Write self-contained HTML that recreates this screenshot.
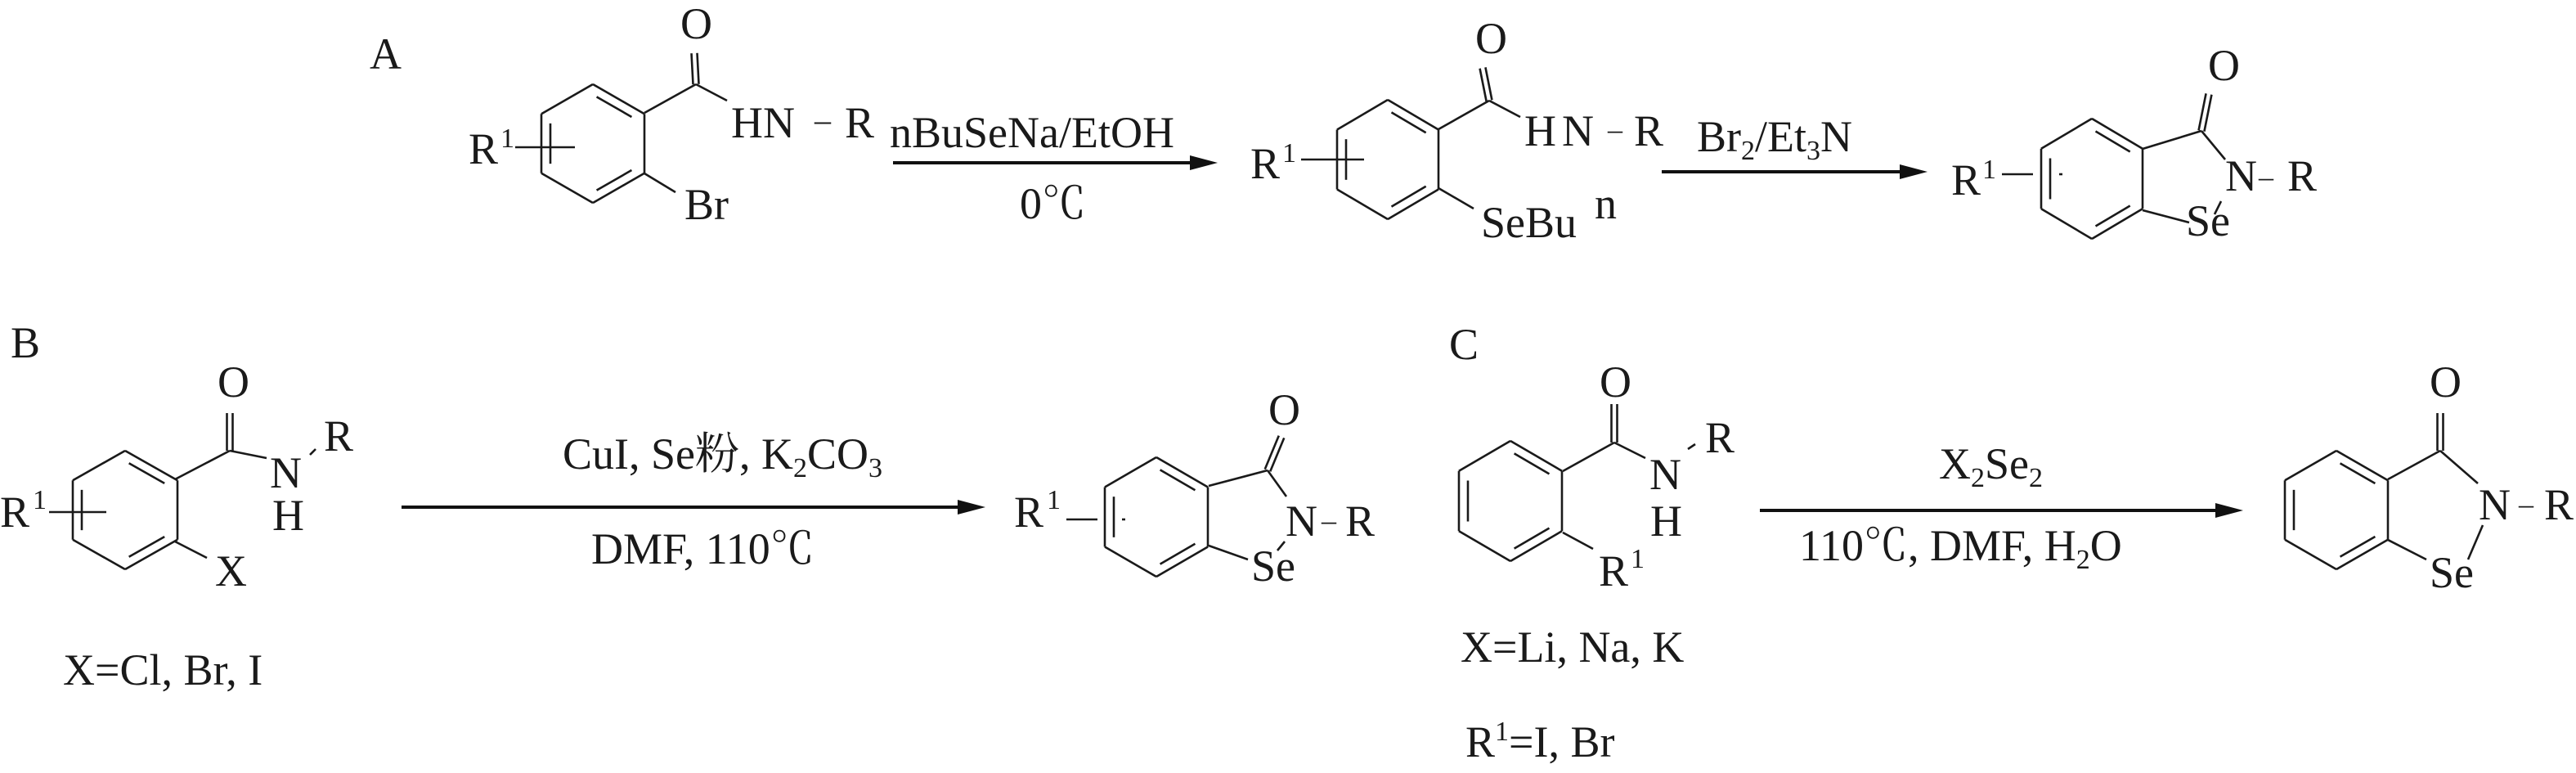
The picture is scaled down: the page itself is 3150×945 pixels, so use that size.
<!DOCTYPE html>
<html><head><meta charset="utf-8"><style>
html,body{margin:0;padding:0;background:#fff;width:3150px;height:945px;overflow:hidden}
svg text{font-family:"Liberation Serif","Noto Serif CJK SC","Noto Sans CJK SC",serif;fill:#1a1a1a;font-size:54px}
.s{font-size:34px}
</style></head><body>
<svg id="sv" width="3150" height="945" viewBox="0 0 3150 945" xmlns="http://www.w3.org/2000/svg">
<g id="bonds" stroke="#1a1a1a" stroke-width="2.6" fill="none" stroke-linecap="butt"></g>
<g id="arrows" fill="#111" stroke="#111"></g>
<!-- A -->
<text x="452" y="84">A</text>
<text x="573" y="200">R</text><text class="s" x="612" y="180">1</text>
<text x="832" y="47">O</text>
<text x="894" y="168">HN</text>
<text x="996" y="160" style="font-size:40px">–</text>
<text x="1033" y="168">R</text>
<text x="837" y="268">Br</text>
<text x="1088" y="180">nBuSeNa/EtOH</text>
<text x="1247" y="267">0℃</text>
<text x="1529" y="218">R</text><text class="s" x="1568" y="198">1</text>
<text x="1804" y="65">O</text>
<text x="1864" y="178">H</text><text x="1910" y="178">N</text>
<text x="1966" y="170" style="font-size:36px">–</text>
<text x="1998" y="178">R</text>
<text x="1811" y="290">SeBu</text>
<text x="1950" y="267">n</text>
<text x="2075" y="185">Br<tspan class="s" dy="10">2</tspan><tspan dy="-10">/Et</tspan><tspan class="s" dy="10">3</tspan><tspan dy="-10">N</tspan></text>
<text x="2386" y="238">R</text><text class="s" x="2424" y="218">1</text>
<text x="2700" y="98">O</text>
<text x="2721" y="233">N</text>
<text x="2762" y="228" style="font-size:36px">–</text>
<text x="2797" y="233">R</text>
<text x="2673" y="288">Se</text>
<!-- B -->
<text x="13" y="437">B</text>
<text x="0" y="644">R</text><text class="s" x="40" y="622">1</text>
<text x="266" y="485">O</text>
<text x="330" y="596">N</text>
<text x="396" y="551">R</text>
<text x="333" y="648">H</text>
<text x="263" y="716">X</text>
<text x="688" y="573">CuI, Se粉, K<tspan class="s" dy="10">2</tspan><tspan dy="-10">CO</tspan><tspan class="s" dy="10">3</tspan></text>
<text x="723" y="689">DMF, 110℃</text>
<text x="77" y="837">X=Cl, Br, I</text>
<text x="1240" y="644">R</text><text class="s" x="1280" y="622">1</text>
<text x="1551" y="519">O</text>
<text x="1572" y="655">N</text>
<text x="1616" y="648" style="font-size:36px">–</text>
<text x="1645" y="655">R</text>
<text x="1530" y="710">Se</text>
<!-- C -->
<text x="1772" y="439">C</text>
<text x="1956" y="485">O</text>
<text x="2017" y="598">N</text>
<text x="2085" y="553">R</text>
<text x="2018" y="655">H</text>
<text x="1955" y="716">R</text><text class="s" x="1994" y="694">1</text>
<text x="1786" y="809">X=Li, Na, K</text>
<text x="1792" y="925">R<tspan class="s" dy="-20">1</tspan><tspan dy="20">=I, Br</tspan></text>
<text x="2371" y="585">X<tspan class="s" dy="10">2</tspan><tspan dy="-10">Se</tspan><tspan class="s" dy="10">2</tspan></text>
<text x="2200" y="685">110℃, DMF, H<tspan class="s" dy="10">2</tspan><tspan dy="-10">O</tspan></text>
<text x="2971" y="485">O</text>
<text x="3031" y="635">N</text>
<text x="3080" y="628" style="font-size:36px">–</text>
<text x="3111" y="635">R</text>
<text x="2971" y="718">Se</text>
</svg>
<script>
var NS="http://www.w3.org/2000/svg",B=document.getElementById("bonds"),A=document.getElementById("arrows");
function L(x1,y1,x2,y2){var l=document.createElementNS(NS,"line");l.setAttribute("x1",x1);l.setAttribute("y1",y1);l.setAttribute("x2",x2);l.setAttribute("y2",y2);B.appendChild(l);}
function ring(cx,top,hw,bot){var h=(bot-top),v=[[cx,top],[cx+hw,top+h*0.25],[cx+hw,top+h*0.75],[cx,bot],[cx-hw,top+h*0.75],[cx-hw,top+h*0.25]];
 var cy=(top+bot)/2;for(var i=0;i<6;i++){var a=v[i],b=v[(i+1)%6];L(a[0],a[1],b[0],b[1]);}
 [0,2,4].forEach(function(i){var a=v[i],b=v[(i+1)%6];var mx=(a[0]+b[0])/2,my=(a[1]+b[1])/2;var dx=cx-mx,dy=cy-my,d=Math.hypot(dx,dy);var o=11;var ox=dx/d*o,oy=dy/d*o;var t=0.16;
 L(a[0]+(b[0]-a[0])*t+ox,a[1]+(b[1]-a[1])*t+oy,b[0]-(b[0]-a[0])*t+ox,b[1]-(b[1]-a[1])*t+oy);});return v;}
function dbl(x1,y1,x2,y2){var dx=x2-x1,dy=y2-y1,d=Math.hypot(dx,dy),nx=-dy/d*3.5,ny=dx/d*3.5;L(x1+nx,y1+ny,x2+nx,y2+ny);L(x1-nx,y1-ny,x2-nx,y2-ny);}
function arrow(x1,x2,y){var l=document.createElementNS(NS,"line");l.setAttribute("x1",x1);l.setAttribute("y1",y);l.setAttribute("x2",x2-20);l.setAttribute("y2",y);l.setAttribute("stroke-width","4");A.appendChild(l);
 var p=document.createElementNS(NS,"polygon");p.setAttribute("points",(x2-34)+","+(y-9)+" "+x2+","+y+" "+(x2-34)+","+(y+9));p.setAttribute("stroke","none");A.appendChild(p);}
// A1
var v=ring(725,103,63,248);L(788,138,851,103);dbl(851,103,849,65);L(851,103,889,123);L(788,212,826,235);L(630,180,703,180);
arrow(1092,1489,199);
// A2
v=ring(1697,122,62,268);L(1759,158,1821,123);dbl(1821,123,1813,83);L(1821,123,1859,143);L(1759,230,1802,255);L(1591,195,1668,195);
arrow(2032,2357,210);
// A3
v=ring(2558,145,62,292);L(2620,182,2692,160);dbl(2692,160,2701,115);L(2692,160,2721,195);L(2620,257,2677,272);L(2708,262,2716,246);L(2448,213,2486,213);L(2518,213,2522,213);
// B1
v=ring(153,551,64,696);L(214,586,281,551);dbl(281,551,281,505);L(281,551,326,560);L(214,662,253,682);L(60,626,130,626);L(379,556,386,549);
arrow(491,1205,620);
// B2
v=ring(1414,559,63,705);L(1478,594,1550,575);dbl(1550,575,1567,534);L(1550,575,1573,607);L(1478,667,1526,684);L(1571,662,1562,673);L(1304,635,1342,635);L(1372,635,1376,635);
// C1
v=ring(1847,539,63,686);L(1911,576,1974,541);dbl(1974,541,1974,494);L(1974,541,2012,560);L(1911,651,1948,671);L(2064,549,2073,543);
arrow(2152,2743,624);
// C2
v=ring(2857,551,63,696);L(2920,586,2984,551);dbl(2984,551,2984,505);L(2984,551,3030,591);L(2920,660,2967,684);L(3036,642,3018,684);
</script>
</body></html>
